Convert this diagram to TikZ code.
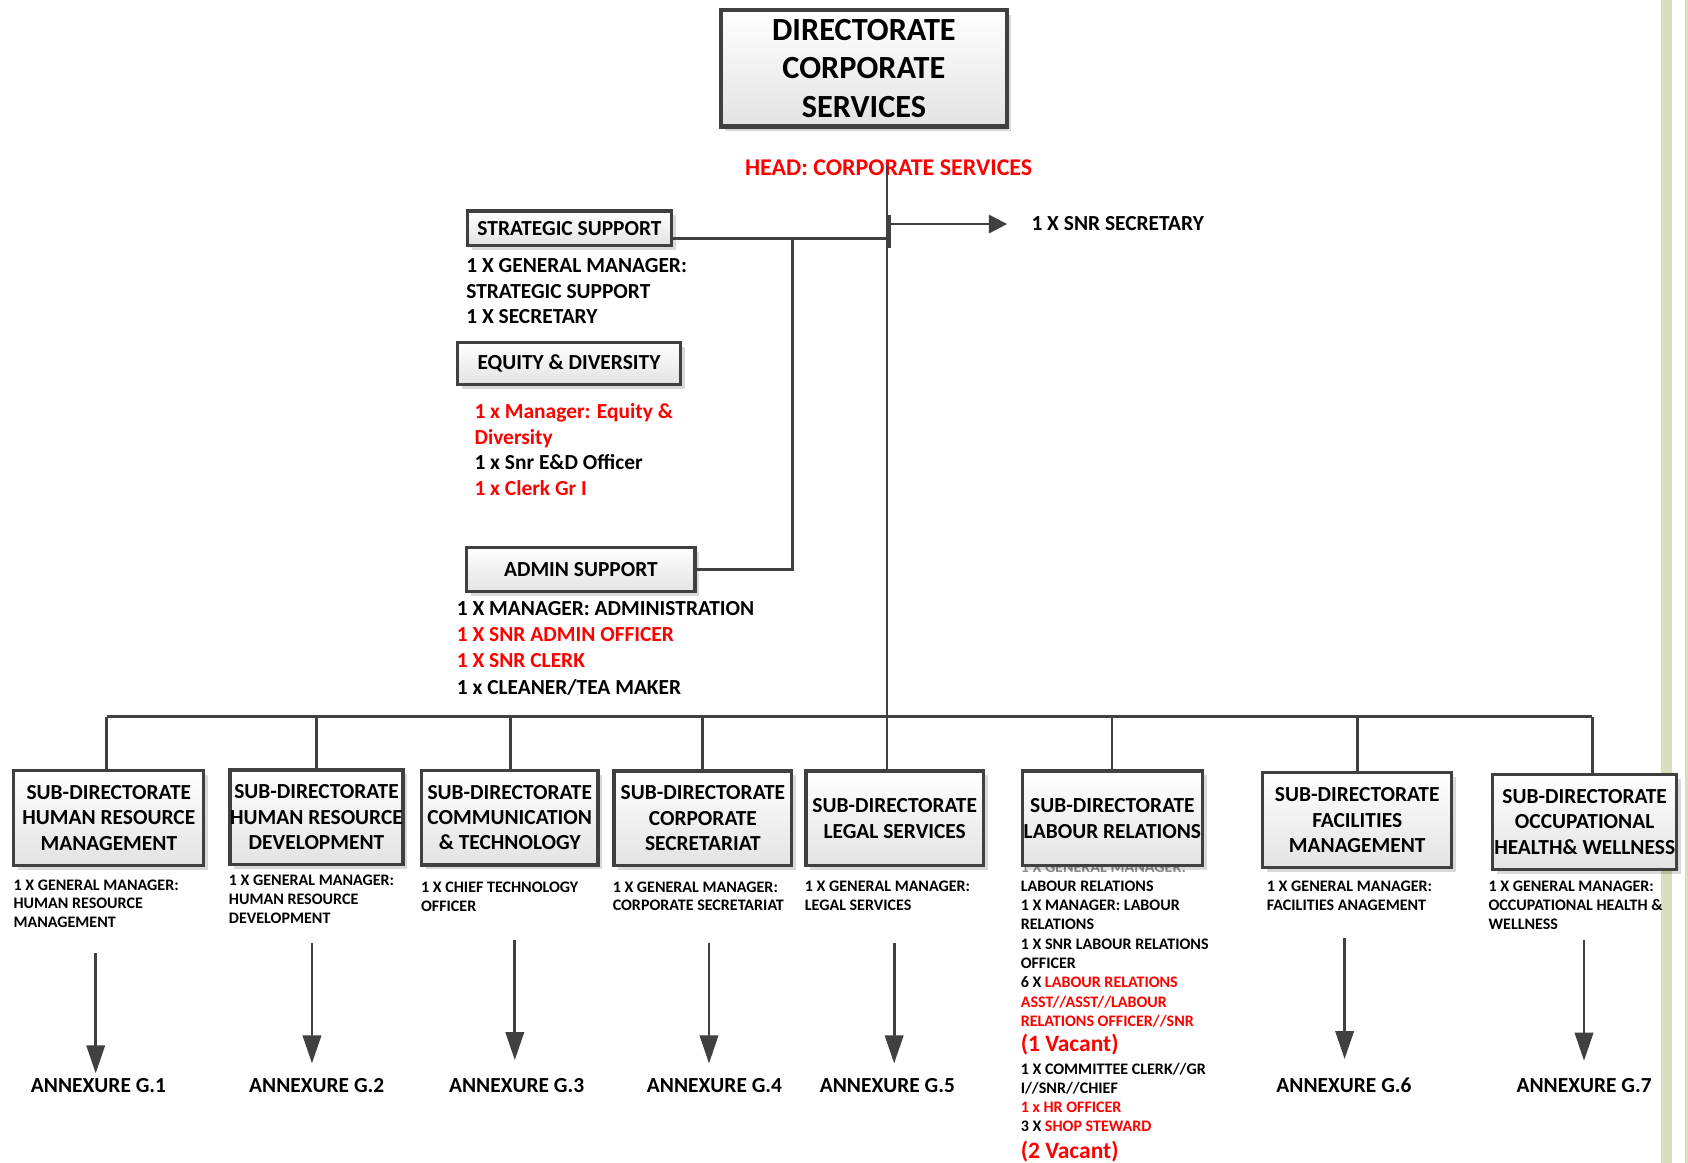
\documentclass[tikz,border=0pt]{standalone}
\usepackage{fontspec}
\setmainfont{Carlito}
\usetikzlibrary{arrows.meta,shadows,calc}
\definecolor{linegray}{HTML}{404040}
\definecolor{orgred}{HTML}{FF0000}
\definecolor{stripe}{RGB}{216,223,188}
\newcommand\fntTop{\fontsize{30}{35.5}\selectfont\bfseries}
\newcommand\fntMain{\fontsize{19.9}{23.8}\selectfont\bfseries}
\newcommand\fntMainB{\fontsize{19.9}{24.2}\selectfont\bfseries}
\newcommand\fntBox{\fontsize{19.9}{23.6}\selectfont\bfseries}
\newcommand\fntSmall{\fontsize{14.9}{17.3}\selectfont\bfseries}
\newcommand\fntHead{\fontsize{22.3}{26}\selectfont\bfseries}
\newcommand\fntVac{\fontsize{21.8}{26}\selectfont\bfseries}
\newcommand\rd[1]{\textcolor{orgred}{#1}}
\begin{document}
\begin{tikzpicture}[x=1pt,y=-1pt,
  box/.style={draw=linegray, line width=3pt, top color=white, bottom color=black!11,
    inner sep=0pt, align=center, font=\fntBox,
    general shadow={fill=black, opacity=0.15, shadow xshift=4pt, shadow yshift=-4pt}},
  desc/.style={inner sep=0pt, align=left, font=\fntSmall},
  lab/.style={inner sep=0pt, anchor=base west, font=\fntSmall},
  annex/.style={inner sep=0pt, anchor=base, font=\fntMain},
  conn/.style={draw=linegray, line width=2.5pt},
  arr/.style={conn, -{Triangle[width=17pt,length=26pt]}},
  arrs/.style={conn, -{Triangle[width=17pt,length=17pt]}}]
\fill[white] (0,0) rectangle (1568,1080);
\useasboundingbox (0,0) rectangle (1568,1080);
% right-hand page stripes
\fill[stripe] (1543,0) rectangle (1553,1080);
\fill[stripe] (1565,0) rectangle (1568,1080);

% top
\node[box, line width=3.8pt, font=\fntTop, minimum width=266pt, minimum height=108pt] (top) at (802.5,63.5) {DIRECTORATE\\CORPORATE\\SERVICES};
\node[font=\fntHead, text=orgred, anchor=base, inner sep=0pt] (head) at (825.5,162.8) {HEAD: CORPORATE SERVICES};

% staff units
\node[box, font=\fntMain, minimum width=189pt, minimum height=32pt] (ss) at (529,211.9) {STRATEGIC SUPPORT};
\node[desc, font=\fntMain, anchor=north west] (ssd) at (433,239.8) {1 X GENERAL MANAGER:\\STRATEGIC SUPPORT\\1 X SECRETARY};
\node[box, font=\fntMain, minimum width=207pt, minimum height=39pt] (ed) at (528.5,337.4) {EQUITY \& DIVERSITY};
\node[desc, font=\fntMain, anchor=north west] (edd) at (440.6,374.6) {\rd{1 x Manager: Equity \&}\\\rd{Diversity}\\1 x Snr E\&D Officer\\\rd{1 x Clerk Gr I}};
\node[box, font=\fntMain, minimum width=212pt, minimum height=41pt] (as) at (539.6,529) {ADMIN SUPPORT};
\node[desc, font=\fntMainB, anchor=north west] (asd) at (424.2,558.8) {1 X MANAGER: ADMINISTRATION\\\rd{1 X SNR ADMIN OFFICER}\\\rd{1 X SNR CLERK}\\1 x CLEANER/TEA MAKER};
\node[font=\fntMain, anchor=base west, inner sep=0pt] (sec) at (958,214.2) {1 X SNR SECRETARY};

% hidden line under the labour relations box
\node[lab, text=black!45] (l0) at (948,810.7) {1 X GENERAL MANAGER:};

% sub-directorates
\node[box, minimum width=176.5pt, minimum height=88pt] (s1) at (101.1,759.7) {SUB-DIRECTORATE\\HUMAN RESOURCE\\MANAGEMENT};
\node[box, minimum width=160.6pt, minimum height=87.5pt] (s2) at (294,759) {SUB-DIRECTORATE\\HUMAN RESOURCE\\DEVELOPMENT};
\node[box, minimum width=164pt, minimum height=88pt] (s3) at (473.5,759.5) {SUB-DIRECTORATE\\COMMUNICATION\\\& TECHNOLOGY};
\node[box, minimum width=165.2pt, minimum height=88pt] (s4) at (652.9,760.2) {SUB-DIRECTORATE\\CORPORATE\\SECRETARIAT};
\node[box, minimum width=164.8pt, minimum height=88pt] (s5) at (831.1,760.2) {SUB-DIRECTORATE\\LEGAL SERVICES};
\node[box, minimum width=167.3pt, minimum height=88pt] (s6) at (1033.3,760.2) {SUB-DIRECTORATE\\LABOUR RELATIONS};
\node[box, minimum width=175.6pt, minimum height=88pt] (s7) at (1260.7,761.8) {SUB-DIRECTORATE\\FACILITIES\\MANAGEMENT};
\node[box, minimum width=171pt, minimum height=88.3pt] (s8) at (1472,763.5) {SUB-DIRECTORATE\\OCCUPATIONAL\\HEALTH\& WELLNESS};

% descriptions
\node[desc, anchor=north west] (d1) at (12.4,816.8) {1 X GENERAL MANAGER:\\HUMAN RESOURCE\\MANAGEMENT};
\node[desc, anchor=north west] (d2) at (212.5,812.8) {1 X GENERAL MANAGER:\\HUMAN RESOURCE\\DEVELOPMENT};
\node[desc, anchor=north west] (d3) at (391,819) {1 X CHIEF TECHNOLOGY\\OFFICER};
\node[desc, anchor=north west] (d4) at (569,818.6) {1 X GENERAL MANAGER:\\CORPORATE SECRETARIAT};
\node[desc, anchor=north west] (d5) at (747.5,818.3) {1 X GENERAL MANAGER:\\LEGAL SERVICES};
\node[desc, anchor=north west] (d7) at (1176.7,818.5) {1 X GENERAL MANAGER:\\FACILITIES ANAGEMENT};
\node[desc, anchor=north west] (d8) at (1382.6,818.5) {1 X GENERAL MANAGER:\\OCCUPATIONAL HEALTH \&\\WELLNESS};

% labour relations staff list
\node[lab] (l1) at (948,827.9) {LABOUR RELATIONS};
\node[lab] (l2) at (948,845.8) {1 X MANAGER: LABOUR};
\node[lab] (l3) at (948,863.7) {RELATIONS};
\node[lab] (l4) at (948,881.7) {1 X SNR LABOUR RELATIONS};
\node[lab] (l5) at (948,899.6) {OFFICER};
\node[lab] (l6) at (948,917.5) {6 X \rd{LABOUR RELATIONS}};
\node[lab] (l7) at (948,935.4) {\rd{ASST//ASST//LABOUR}};
\node[lab] (l8) at (948,953.2) {\rd{RELATIONS OFFICER//SNR}};
\node[lab, font=\fntVac, text=orgred] (l9) at (948,977.1) {(1 Vacant)};
\node[lab] (l10) at (948,998) {1 X COMMITTEE CLERK//GR};
\node[lab] (l11) at (948,1015.7) {I//SNR//CHIEF};
\node[lab] (l12) at (948,1033.4) {\rd{1 x HR OFFICER}};
\node[lab] (l13) at (948,1050.7) {3 X \rd{SHOP STEWARD}};
\node[lab, font=\fntVac, text=orgred] (l14) at (948,1076.4) {(2 Vacant)};

% annexures
\node[annex] (g1) at (91.5,1014.6) {ANNEXURE G.1};
\node[annex] (g2) at (294.2,1014.6) {ANNEXURE G.2};
\node[annex] (g3) at (479.9,1014.6) {ANNEXURE G.3};
\node[annex] (g4) at (663.7,1014.6) {ANNEXURE G.4};
\node[annex] (g5) at (824.3,1014.6) {ANNEXURE G.5};
\node[annex] (g6) at (1248.4,1014.6) {ANNEXURE G.6};
\node[annex] (g7) at (1471.5,1014.6) {ANNEXURE G.7};

% connector coordinates
\coordinate (mtop) at (824,153);
\coordinate (ssj) at (736,221.4);
\coordinate (ssm) at (824,221.4);
\coordinate (tk1) at (826.5,199.7);
\coordinate (tk2) at (826.5,230.7);
\coordinate (secs) at (826.5,208.1);
\coordinate (sect) at (935.5,208.1);
\coordinate (b1) at (99,665.7);
\coordinate (b2) at (294,665.7);
\coordinate (b3) at (474,665.7);
\coordinate (b4) at (652.7,665.7);
\coordinate (b6) at (1033,665.7);
\coordinate (b7) at (1260.9,665.7);
\coordinate (b8) at (1479.2,665.7);

% connectors
\draw[conn] (mtop) -- (mtop |- s5.north);
\draw[conn] (b1) -- (b8);
\foreach \i in {1,2,3,4,6,7,8} {\draw[conn] (b\i) -- (b\i |- s\i.north);}
\draw[conn] (ss.east |- ssj) -- (ssm);
\draw[conn] (ssj) -- (ssj |- as.east) -- (as.east);
\draw[conn] (tk1) -- (tk2);
\draw[arrs] (secs) -- (sect);

% arrows to annexures
\coordinate (a1) at (88.9,885);   \coordinate (e1) at (88.9,997);
\coordinate (a2) at (289.8,876);  \coordinate (e2) at (289.8,987.8);
\coordinate (a3) at (478.2,873.2);\coordinate (e3) at (478.2,984.7);
\coordinate (a4) at (658.6,875.7);\coordinate (e4) at (658.6,987.8);
\coordinate (a5) at (830.6,876.3);\coordinate (e5) at (830.6,987.8);
\coordinate (a6) at (1249,871.7); \coordinate (e6) at (1249,983.7);
\coordinate (a7) at (1471.4,873.2);\coordinate (e7) at (1471.4,985.3);
\foreach \i in {1,...,7} {\draw[arr] (a\i) -- (e\i);}
\end{tikzpicture}
\end{document}
